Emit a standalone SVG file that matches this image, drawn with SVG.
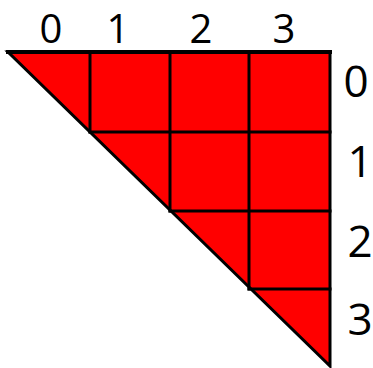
<svg xmlns="http://www.w3.org/2000/svg" width="373" height="368" viewBox="0 0 373 368">
<style>
.ln{stroke:#000;stroke-width:3;fill:none;stroke-linecap:square}
.lbl{font-family:"Open Sans","Liberation Sans",sans-serif;font-size:40px;fill:#000;text-anchor:middle}
.rl{font-size:44px}
</style>
<rect width="373" height="368" fill="#fff"/>
<g id="triangle">
<polygon points="8,52 330,52 330,366" fill="#ff0000" stroke="#000" stroke-width="3" stroke-linejoin="miter"/>
<line class="ln" x1="8" y1="52" x2="330" y2="52" style="stroke-width:4"/>
</g>
<g id="grid">
<line class="ln" x1="90" y1="52" x2="90" y2="132"/>
<line class="ln" x1="170" y1="52" x2="170" y2="211"/>
<line class="ln" x1="249" y1="52" x2="249" y2="289"/>
<line class="ln" x1="90" y1="132" x2="330" y2="132"/>
<line class="ln" x1="170" y1="211" x2="330" y2="211"/>
<line class="ln" x1="249" y1="289" x2="330" y2="289"/>
</g>
<g id="col-labels">
<text class="lbl" x="51" y="43">0</text>
<text class="lbl" x="118" y="43">1</text>
<text class="lbl" x="201" y="43">2</text>
<text class="lbl" x="284" y="43">3</text>
</g>
<g id="row-labels">
<text class="lbl rl" x="356" y="97">0</text>
<text class="lbl rl" x="360" y="177">1</text>
<text class="lbl rl" x="360" y="257">2</text>
<text class="lbl rl" x="360" y="335">3</text>
</g>
</svg>
